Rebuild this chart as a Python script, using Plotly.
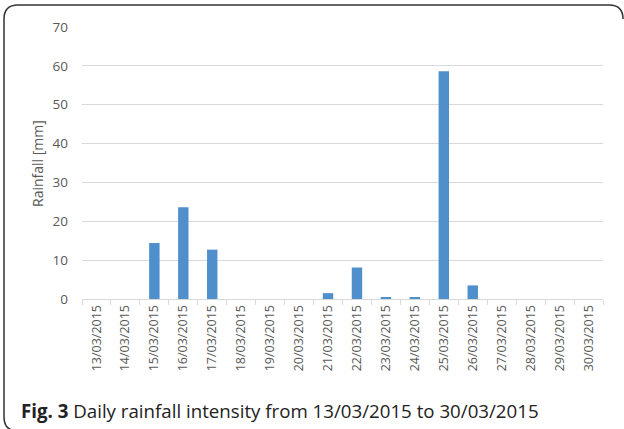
import plotly.graph_objects as go

dates = ["13/03/2015", "14/03/2015", "15/03/2015", "16/03/2015", "17/03/2015", "18/03/2015",
         "19/03/2015", "20/03/2015", "21/03/2015", "22/03/2015", "23/03/2015", "24/03/2015",
         "25/03/2015", "26/03/2015", "27/03/2015", "28/03/2015", "29/03/2015", "30/03/2015"]
rainfall = [0, 0, 14.4, 23.6, 12.7, 0, 0, 0, 1.5, 8.1, 0.5, 0.5, 58.6, 3.5, 0, 0, 0, 0]
y_ticks = [0, 10, 20, 30, 40, 50, 60, 70]

W, H = 624, 429
L, R, T, B = 82, 21, 27, 130
pw, ph = W - L - R, H - T - B

def px(x):
    return (x - L) / pw

def py(y):
    return (H - B - y) / ph

fig = go.Figure(go.Bar(
    x=dates, y=rainfall,
    marker=dict(color="#4f8fcc", line=dict(width=0)),
    width=0.36,
))

gray = "#595959"
fig.update_layout(
    width=W, height=H,
    margin=dict(l=L, r=R, t=T, b=B),
    plot_bgcolor="white", paper_bgcolor="white",
    showlegend=False,
    font=dict(family="Open Sans, Noto Sans, sans-serif", color=gray),
    xaxis=dict(
        type="category", tickangle=-90, tickfont=dict(size=12.5, color=gray),
        showline=True, linecolor="#d9d9d9", linewidth=1,
        ticks="outside", tickson="boundaries", ticklen=5, tickcolor="#d9d9d9",
        showgrid=False,
    ),
    yaxis=dict(
        range=[0, 70], tickvals=y_ticks, tickfont=dict(size=13.5, color=gray),
        showgrid=True, gridcolor="#d9d9d9", gridwidth=1, zeroline=False,
        ticklabelstandoff=13,
    ),
)

fig.add_annotation(
    x=px(37), y=py(164), xref="paper", yref="paper", xanchor="center", yanchor="middle",
    showarrow=False, textangle=-90, text="Rainfall [mm]",
    font=dict(size=14, color=gray),
)

# open frame: left side, top, and the start of the top-right and bottom-left corners
x0, x1, y0, y1, r = 4, 623, 5, 431, 14
pts = (f"M {px(x0 + r)},{py(y1)} Q {px(x0)},{py(y1)} {px(x0)},{py(y1 - r)} "
       f"L {px(x0)},{py(y0 + r)} Q {px(x0)},{py(y0)} {px(x0 + r)},{py(y0)} "
       f"L {px(x1 - r)},{py(y0)} Q {px(x1)},{py(y0)} {px(x1)},{py(y0 + r)}")
fig.add_shape(type="path", path=pts, xref="paper", yref="paper",
              line=dict(color="#333333", width=1.5))

fig.add_annotation(
    x=px(19), y=py(410), xref="paper", yref="paper", xanchor="left", yanchor="middle",
    showarrow=False,
    text="<b>Fig. 3</b> Daily rainfall intensity from 13/03/2015 to 30/03/2015",
    font=dict(size=18.7, color="#222222", family="Open Sans, Noto Sans, sans-serif"),
)

fig.write_html("out.html", config={"displayModeBar": False},
               post_script="document.body.style.margin='0';")
